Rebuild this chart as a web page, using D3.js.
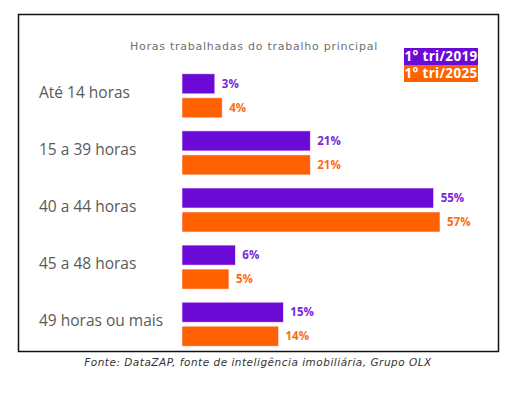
<!DOCTYPE html>
<html>
<head>
<meta charset="utf-8">
<script src="https://cdn.jsdelivr.net/npm/d3@7"></script>
<style>
  body { margin: 0; background: #fff; }
  svg { font-family: "Open Sans", sans-serif; }
</style>
</head>
<body>
<div id="chart"></div>
<script>
const categories = ["Até 14 horas", "15 a 39 horas", "40 a 44 horas", "45 a 48 horas", "49 horas ou mais"];
const seriesNames = ["1° tri/2019", "1° tri/2025"];
const values2019 = [3, 21, 55, 6, 15];
const values2025 = [4, 21, 57, 5, 14];
const colors = ["#6b0ad6", "#ff6100"];
const labelColors = ["#7a26d9", "#ff6a10"];

const width = 519, height = 395;

const svg = d3.select("#chart")
    .append("svg")
    .attr("width", width)
    .attr("height", height);

// frame
svg.append("rect")
    .attr("x", 18.5).attr("y", 14.5)
    .attr("width", 480).attr("height", 337)
    .attr("fill", "none")
    .attr("stroke", "#111")
    .attr("stroke-width", 1.5);

svg.append("text")
    .attr("x", 254).attr("y", 50)
    .attr("text-anchor", "middle")
    .attr("font-family", "DejaVu Sans")
    .attr("font-size", 11)
    .attr("letter-spacing", 0.75)
    .attr("fill", "#707070")
    .text("Horas trabalhadas do trabalho principal");

// legend
seriesNames.forEach((name, i) => {
    const ly = 48 + i * 17;
    svg.append("rect")
        .attr("x", 404).attr("y", ly)
        .attr("width", 74).attr("height", 17)
        .attr("fill", colors[i]);
    svg.append("text")
        .attr("x", 441).attr("y", ly + 13)
        .attr("text-anchor", "middle")
        .attr("font-size", 13.5)
        .attr("font-weight", "bold")
        .attr("letter-spacing", 0.3)
        .attr("fill", "#fff")
        .text(name);
});

const data = categories.map((c, i) => ({cat: c, vals: [values2019[i], values2025[i]]}));

const y = d3.scaleBand()
    .domain(categories)
    .range([67, 353])
    .paddingInner(0.23)
    .paddingOuter(0.12);

const x = d3.scalePow()
    .exponent(0.7)
    .domain([0, 57])
    .range([0, 258]);

const x0 = 182;
const barH = 20, barGap = 4;

const groups = svg.selectAll(".grp")
    .data(data)
    .enter()
    .append("g")
    .attr("class", "grp")
    .attr("transform", d => `translate(0,${y(d.cat) + y.bandwidth() / 2 - barH - barGap / 2})`);

groups.append("text")
    .attr("x", 39)
    .attr("y", barH + barGap / 2 + 2)
    .attr("font-size", 15.5)
    .attr("fill", "#5a5a5a")
    .text(d => d.cat);

groups.selectAll("rect")
    .data(d => d.vals)
    .enter()
    .append("rect")
    .attr("x", x0)
    .attr("y", (v, i) => i * (barH + barGap))
    .attr("width", v => x(v))
    .attr("height", barH)
    .attr("fill", (v, i) => colors[i])
    .attr("stroke", "#fde8ff")
    .attr("stroke-width", 0.6);

groups.selectAll(".val")
    .data(d => d.vals)
    .enter()
    .append("text")
    .attr("class", "val")
    .attr("x", v => x0 + x(v) + 7)
    .attr("y", (v, i) => i * (barH + barGap) + barH / 2 + 4)
    .attr("font-size", 11.5)
    .attr("font-weight", "bold")
    .attr("fill", (v, i) => labelColors[i])
    .text(v => v + "%");

svg.append("text")
    .attr("x", 258).attr("y", 366)
    .attr("text-anchor", "middle")
    .attr("font-family", "DejaVu Sans")
    .attr("font-size", 10.5)
    .attr("font-style", "italic")
    .attr("letter-spacing", 0.5)
    .attr("fill", "#333")
    .text("Fonte: DataZAP, fonte de inteligência imobiliária, Grupo OLX");
</script>
</body>
</html>
